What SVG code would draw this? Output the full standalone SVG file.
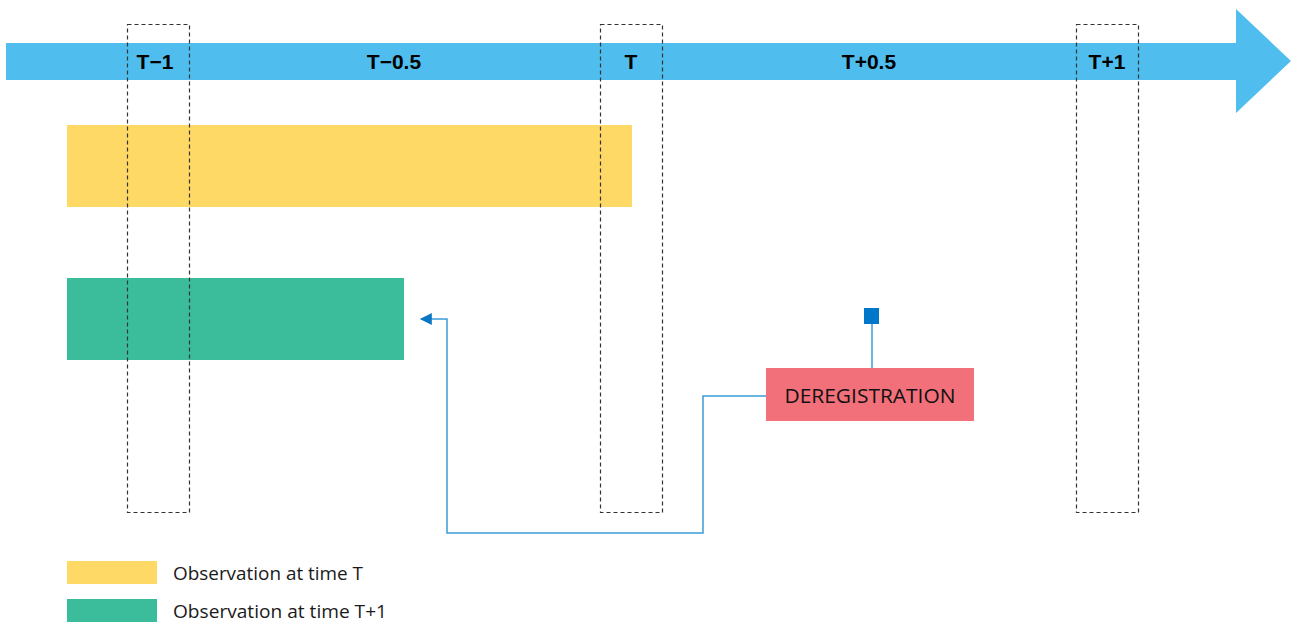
<svg xmlns="http://www.w3.org/2000/svg" width="1291" height="622" viewBox="0 0 1291 622">
<defs>
<style>
.axislbl{font-family:"Liberation Sans",Arial,sans-serif;font-weight:bold;font-size:21px;fill:#000;text-anchor:middle}
.win{fill:none;stroke:#333;stroke-width:1.2;stroke-dasharray:4 3}
.conn{fill:none;stroke:#3B9BD8;stroke-width:1.5}
.lg{font-family:"Open Sans","Liberation Sans",sans-serif;font-size:18px;fill:#1a1a1a}
</style>
<marker id="arr" viewBox="0 0 10 10" refX="9" refY="5" markerWidth="16" markerHeight="12" markerUnits="userSpaceOnUse" orient="auto">
<path d="M0,0 L10,5 L0,10 Z" fill="#0A76C4"/>
</marker>
</defs>
<g id="timeline">
<polygon points="6,43 1236,43 1236,9 1291,61 1236,113 1236,80 6,80" fill="#4FBEEE"/>
<text class="axislbl" x="155" y="69">T−1</text>
<text class="axislbl" x="394" y="69">T−0.5</text>
<text class="axislbl" x="631" y="69">T</text>
<text class="axislbl" x="869" y="69">T+0.5</text>
<text class="axislbl" x="1107" y="69">T+1</text>
</g>
<g id="obsT"><rect x="67" y="125" width="565" height="82" fill="#FED966"/></g>
<g id="obsT1"><rect x="67" y="278" width="337" height="82" fill="#3BBD9B"/></g>
<g id="windowTm1"><rect class="win" x="127.5" y="24.5" width="62" height="488"/></g>
<g id="windowT"><rect class="win" x="600.5" y="24.5" width="62" height="488"/></g>
<g id="windowTp1"><rect class="win" x="1076.5" y="24.5" width="62" height="488"/></g>
<g id="connectors">
<polyline class="conn" points="766,396 703,396 703,533 447,533 447,319 421,319" marker-end="url(#arr)"/>
<line class="conn" x1="872" y1="324" x2="872" y2="368"/>
</g>
<g id="deregistration">
<rect x="766" y="368" width="208" height="53" fill="#F2707A"/>
<text x="870" y="403" font-family="'Open Sans','Liberation Sans',sans-serif" font-size="20" fill="#111" text-anchor="middle" textLength="171" lengthAdjust="spacingAndGlyphs">DEREGISTRATION</text>
</g>
<g id="event"><rect x="864" y="308" width="15" height="16" fill="#0077C8"/></g>
<g id="legend">
<rect x="67" y="561" width="90" height="23" fill="#FED966"/>
<text class="lg" x="173" y="580" textLength="190" lengthAdjust="spacingAndGlyphs">Observation at time T</text>
<rect x="67" y="599" width="90" height="23" fill="#3BBD9B"/>
<text class="lg" x="173" y="618" textLength="214" lengthAdjust="spacingAndGlyphs">Observation at time T+1</text>
</g>
</svg>
